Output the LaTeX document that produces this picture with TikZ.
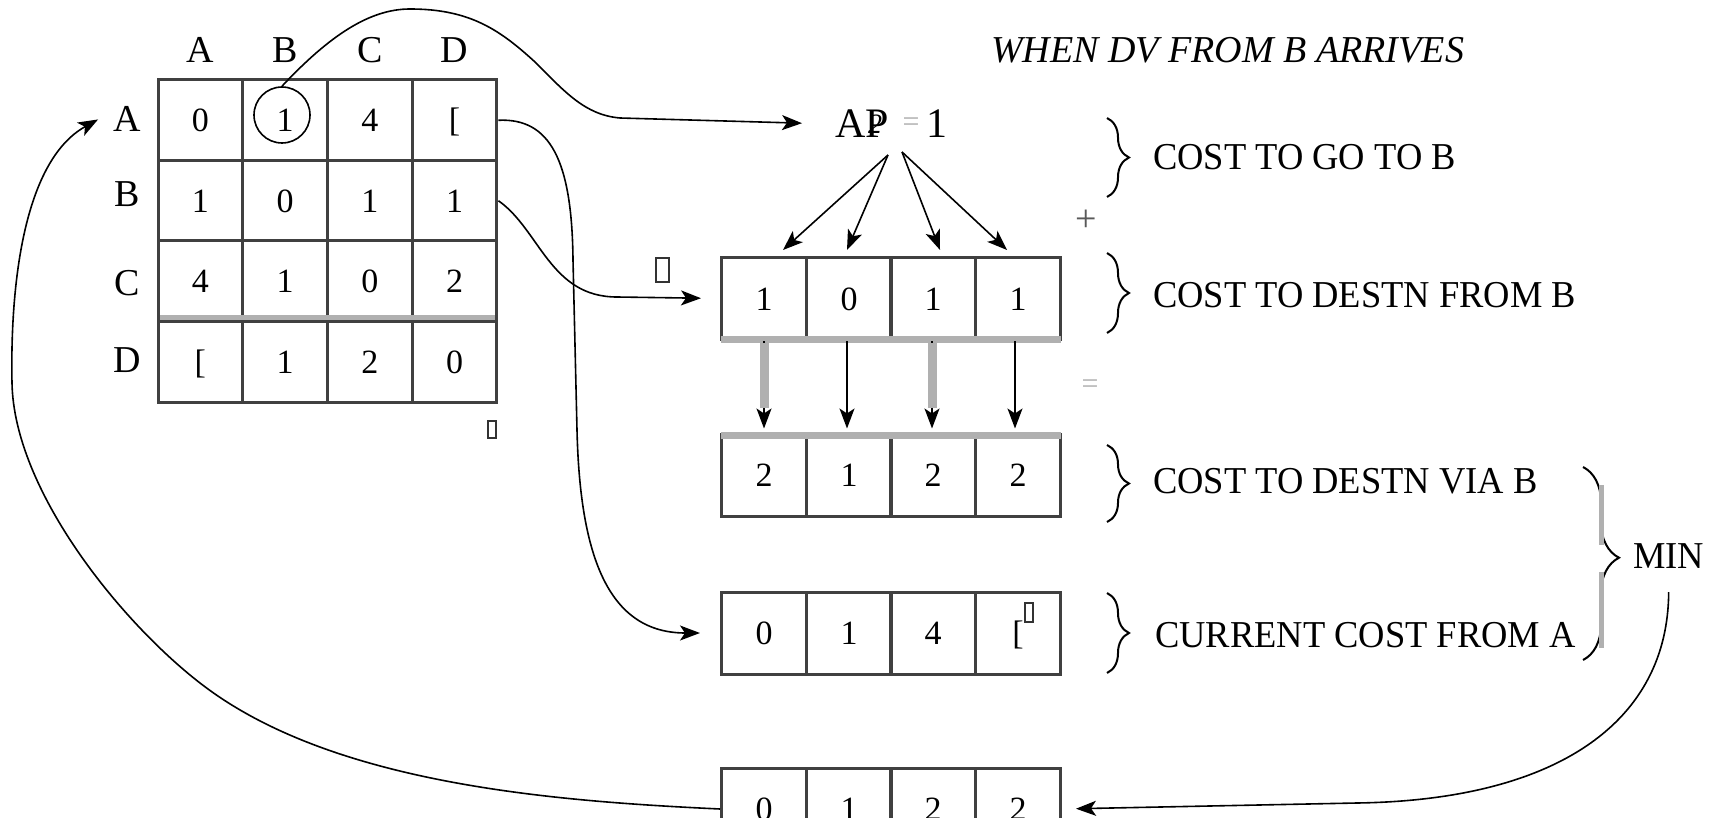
\documentclass[tikz,border=0pt]{standalone}
\usepackage{fontspec}
\setmainfont{Liberation Serif}
\newfontfamily\narrowserif[FakeStretch=0.96]{Liberation Serif}
\usetikzlibrary{arrows.meta,decorations.pathreplacing,calc}
\definecolor{boxgray}{HTML}{404040}
\definecolor{hazegray}{HTML}{B0B0B0}
\newcommand\digfont{\fontsize{34}{34}\selectfont}
\newcommand\lblfont{\fontsize{38}{38}\selectfont}
\begin{document}
\begin{tikzpicture}[x=1pt,y=-1pt,
  mcell/.style={draw=boxgray, line width=3pt, minimum width=84.75pt, minimum height=80.5pt,
    inner sep=0pt, text height=23pt, text depth=0pt, font=\digfont},
  vcell/.style={draw=boxgray, line width=3pt, minimum width=85pt, minimum height=82pt,
    inner sep=0pt, text height=23pt, text depth=0pt, font=\digfont},
  hdr/.style={inner sep=0pt, anchor=base, font=\lblfont},
  lbl/.style={inner sep=0pt, anchor=base west, font=\lblfont\narrowserif},
  conn/.style={line width=1.6pt, -{Stealth[length=20pt,width=15pt,inset=5pt]}},
  brc/.style={decorate, decoration={brace, amplitude=22pt, aspect=0.5}, line width=2pt},
  haze/.style={draw=hazegray},
  tofu/.style={draw=black!80, line width=1.2pt}]
\useasboundingbox (0,0) rectangle (1715,818);
\clip (0,0) rectangle (1715,818);

% ---------- routing table of A ----------
\foreach \c/\x in {A/200.4,B/285.1,C/369.9,D/454.6}
  \node[hdr] (col\c) at (\x,63) {\c};
\foreach \r/\y in {A/132,B/207,C/295,D/372}
  \node[hdr] (row\r) at (127,\y) {\r};

\node[mcell] (mAA) at (200.4,120.25) {0};
\node[mcell] (mAB) at (285.1,120.25) {1};
\node[mcell] (mAC) at (369.9,120.25) {4};
\node[mcell] (mAD) at (454.6,120.25) {[};
\node[mcell] (mBA) at (200.4,200.75) {1};
\node[mcell] (mBB) at (285.1,200.75) {0};
\node[mcell] (mBC) at (369.9,200.75) {1};
\node[mcell] (mBD) at (454.6,200.75) {1};
\node[mcell] (mCA) at (200.4,281.25) {4};
\node[mcell] (mCB) at (285.1,281.25) {1};
\node[mcell] (mCC) at (369.9,281.25) {0};
\node[mcell] (mCD) at (454.6,281.25) {2};
\node[mcell] (mDA) at (200.4,361.75) {[};
\node[mcell] (mDB) at (285.1,361.75) {1};
\node[mcell] (mDC) at (369.9,361.75) {2};
\node[mcell] (mDD) at (454.6,361.75) {0};
\draw[haze, line width=5pt] (160,317) -- (495,317);
\node[draw, circle, line width=1.6pt, minimum size=56pt, inner sep=0pt] (ring) at (282,115) {};

% ---------- title and link cost ----------
\node[inner sep=0pt, anchor=base west, font=\lblfont\itshape] (title) at (991,63) {WHEN DV FROM B ARRIVES};
\node[inner sep=0pt, anchor=base west, font=\fontsize{42}{42}\selectfont] (ap) at (835,138) {AP};
\node[inner sep=0pt, anchor=base west, font=\fontsize{28}{28}\selectfont\itshape] (apsub) at (868,134) {2};
\node[inner sep=0pt, text=hazegray, font=\fontsize{30}{30}\selectfont] (apeq) at (911,125) {=};
\node[inner sep=0pt, anchor=base, font=\fontsize{42}{42}\selectfont] (apone) at (937,138) {1};
\coordinate (fanL) at (888,155);
\coordinate (fanR) at (902,152);

% ---------- vectors ----------
\foreach \v/\a/\b/\c/\d/\y in {1/1/0/1/1/298.5, 2/2/1/2/2/475, 3/0/1/4/[/633, 4/0/1/2/2/809}{
  \node[vcell] (r\v c1) at (764,\y) {\a};
  \node[vcell] (r\v c2) at (849,\y) {\b};
  \node[vcell] (r\v c3) at (933,\y) {\c};
  \node[vcell] (r\v c4) at (1018,\y) {\d};
}
\draw[haze, line width=7pt] (721,339) -- (1061,339);
\draw[haze, line width=7pt] (721,435) -- (1061,435);

% ---------- braces and labels ----------
\draw[brc] (1107,118) -- (1107,197);
\draw[brc] (1107,253) -- (1107,333);
\draw[brc] (1107,445) -- (1107,522);
\draw[brc] (1107,593) -- (1107,673);
\node[lbl] (lgo) at (1153,170) {COST TO GO TO B};
\node[lbl] (lfrom) at (1153,307) {COST TO DESTN FROM B};
\node[lbl] (lvia) at (1153,493) {COST TO DESTN VIA B};
\node[lbl] (lcur) at (1155,647) {CURRENT COST FROM A};
\node[inner sep=0pt, text=black!65, font=\lblfont] (plus) at (1086,221) {+};
\node[inner sep=0pt, text=hazegray, font=\fontsize{30}{30}\selectfont] (eqs) at (1090,387) {=};

\draw[brc, decoration={brace, amplitude=36pt, aspect=0.47}] (1583,467) -- (1583,660);
\draw[haze, line width=5pt] (1601,485) -- (1601,545);
\draw[haze, line width=5pt] (1601,572) -- (1601,648);
\node[lbl] (mintxt) at (1633,568) {MIN};

% ---------- missing-glyph boxes ----------
\draw[tofu] (656,258) rectangle (669,282);
\draw[tofu] (488,421) rectangle (496,438);
\draw[tofu] (1025,603) rectangle (1033,622);

% ---------- connectors ----------
\draw[conn, shorten >=33pt] (ring.north) .. controls (330,35) and (370,9) .. (410,9)
  .. controls (470,9) and (500,30) .. (535,62)
  .. controls (565,92) and (585,115) .. (620,118) -- (ap.west);
\draw[conn] (fanL) -- ($(r1c1.north)+(19,-6)$);
\draw[conn] (fanL) -- ($(r1c2.north)+(-2,-6)$);
\draw[conn] (fanR) -- ($(r1c3.north)+(7,-6)$);
\draw[conn] (fanR) -- ($(r1c4.north)+(-11,-6)$);

\draw[conn, shorten >=19pt] (mBD.east) .. controls (540,230) and (550,297) .. (617,297) -- (r1c1.west);
\draw[conn, shorten >=20pt] (mAD.east) .. controls (550,118) and (572,160) .. (573,260)
  -- (577,430) .. controls (580,560) and (610,633) .. (r3c1.west);

\draw[conn, shorten >=4pt] ($(r1c1.south)+(0,0)$) -- ($(r2c1.north)+(0,0)$);
\draw[conn, shorten >=4pt] ($(r1c2.south)+(-2,0)$) -- ($(r2c2.north)+(-2,0)$);
\draw[conn, shorten >=4pt] ($(r1c3.south)+(-1,0)$) -- ($(r2c3.north)+(-1,0)$);
\draw[conn, shorten >=4pt] ($(r1c4.south)+(-3,0)$) -- ($(r2c4.north)+(-3,0)$);
\draw[haze, line width=9pt] (764,343) -- (764,408);
\draw[haze, line width=9pt] (932,343) -- (932,408);

\draw[conn, shorten >=14pt] ($(mintxt.south)+(0,24)$) .. controls (1668,720) and (1560,800) .. (1357,803)
  -- (r4c4.east);
\draw[conn] (r4c1.west) .. controls (551,801) and (330,784) .. (200,683)
  .. controls (120,621) and (14,490) .. (12,383)
  .. controls (10,280) and (25,160) .. ([xshift=-15pt]rowA.west);
\end{tikzpicture}
\end{document}
